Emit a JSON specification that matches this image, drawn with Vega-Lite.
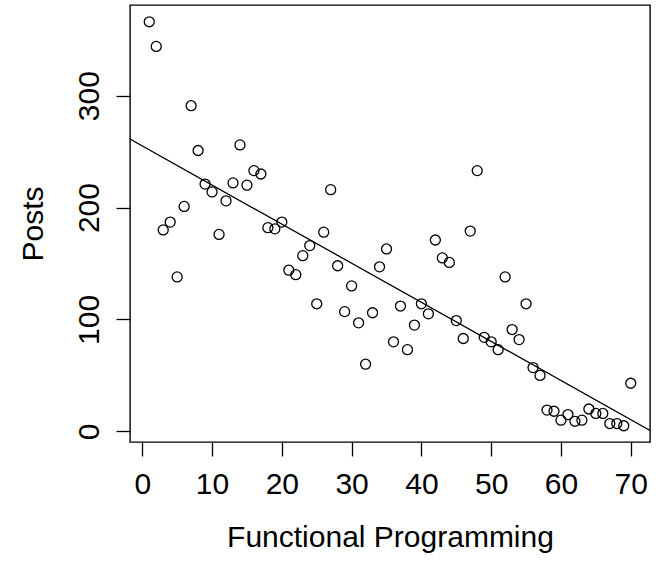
{
  "$schema": "https://vega.github.io/schema/vega-lite/v6.json",
  "autosize": "none",
  "padding": {"left": 130, "top": 5, "right": 6, "bottom": 119},
  "width": 520,
  "height": 437,
  "background": "white",
  "config": {
    "view": {"stroke": "#000000", "strokeWidth": 1.4},
    "font": "Liberation Sans",
    "axis": {
      "domain": false,
      "grid": false,
      "ticks": true,
      "tickSize": 14,
      "tickColor": "#000000",
      "tickWidth": 1.3,
      "labelColor": "#000000",
      "labelFontSize": 30,
      "labelFont": "Liberation Sans",
      "titleFont": "Liberation Sans",
      "titleFontSize": 30,
      "titleFontWeight": "normal",
      "titleColor": "#000000",
      "labelOverlap": false,
      "labelFlush": false
    }
  },
  "data": {
    "values": [
      {"x": 1, "y": 366}, {"x": 2, "y": 344}, {"x": 3, "y": 180}, {"x": 4, "y": 187}, {"x": 5, "y": 138},
      {"x": 6, "y": 201}, {"x": 7, "y": 291}, {"x": 8, "y": 251}, {"x": 9, "y": 221}, {"x": 10, "y": 214},
      {"x": 11, "y": 176}, {"x": 12, "y": 206}, {"x": 13, "y": 222}, {"x": 14, "y": 256}, {"x": 15, "y": 220},
      {"x": 16, "y": 233}, {"x": 17, "y": 230}, {"x": 18, "y": 182}, {"x": 19, "y": 181}, {"x": 20, "y": 187},
      {"x": 21, "y": 144}, {"x": 22, "y": 140}, {"x": 23, "y": 157}, {"x": 24, "y": 166}, {"x": 25, "y": 114},
      {"x": 26, "y": 178}, {"x": 27, "y": 216}, {"x": 28, "y": 148}, {"x": 29, "y": 107}, {"x": 30, "y": 130},
      {"x": 31, "y": 97}, {"x": 32, "y": 60}, {"x": 33, "y": 106}, {"x": 34, "y": 147}, {"x": 35, "y": 163},
      {"x": 36, "y": 80}, {"x": 37, "y": 112}, {"x": 38, "y": 73}, {"x": 39, "y": 95}, {"x": 40, "y": 114},
      {"x": 41, "y": 105}, {"x": 42, "y": 171}, {"x": 43, "y": 155}, {"x": 44, "y": 151}, {"x": 45, "y": 99},
      {"x": 46, "y": 83}, {"x": 47, "y": 179}, {"x": 48, "y": 233}, {"x": 49, "y": 84}, {"x": 50, "y": 80},
      {"x": 51, "y": 73}, {"x": 52, "y": 138}, {"x": 53, "y": 91}, {"x": 54, "y": 82}, {"x": 55, "y": 114},
      {"x": 56, "y": 57}, {"x": 57, "y": 50}, {"x": 58, "y": 19}, {"x": 59, "y": 18}, {"x": 60, "y": 10},
      {"x": 61, "y": 15}, {"x": 62, "y": 9}, {"x": 63, "y": 10}, {"x": 64, "y": 20}, {"x": 65, "y": 16},
      {"x": 66, "y": 16}, {"x": 67, "y": 7}, {"x": 68, "y": 7}, {"x": 69, "y": 5}, {"x": 70, "y": 43}
    ]
  },
  "encoding": {
    "x": {
      "field": "x",
      "type": "quantitative",
      "scale": {"domain": [-1.76, 72.76], "nice": false, "zero": false},
      "axis": {
        "values": [0, 10, 20, 30, 40, 50, 60, 70],
        "title": "Functional Programming",
        "labelBaseline": "alphabetic",
        "labelPadding": 37,
        "titleBaseline": "alphabetic",
        "titleX": 260,
        "titleY": 104,
        "titleAnchor": "middle"
      }
    },
    "y": {
      "field": "y",
      "type": "quantitative",
      "scale": {"domain": [-9.5, 381], "nice": false, "zero": false},
      "axis": {
        "values": [0, 100, 200, 300],
        "title": "Posts",
        "labelAngle": -90,
        "labelAlign": "center",
        "labelBaseline": "alphabetic",
        "labelPadding": 18,
        "titleAngle": -90,
        "titleAlign": "center",
        "titleBaseline": "alphabetic",
        "titleX": -88,
        "titleY": 218.5
      }
    }
  },
  "layer": [
    {
      "mark": {"type": "point", "shape": "circle", "filled": false, "color": "#000000", "size": 100, "strokeWidth": 1.3, "opacity": 1}
    },
    {
      "transform": [{"regression": "y", "on": "x", "extent": [-1.76, 72.76]}],
      "mark": {"type": "line", "color": "#000000", "strokeWidth": 1.3, "clip": true}
    }
  ]
}
